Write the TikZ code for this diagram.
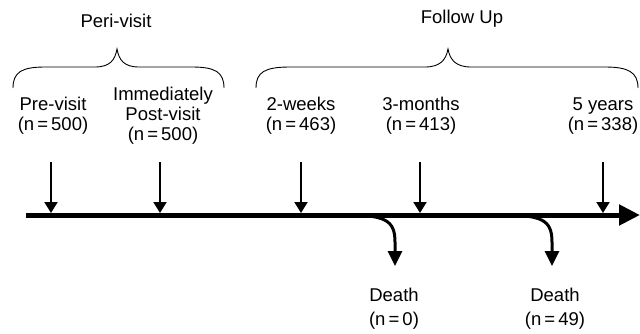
\documentclass[tikz,border=0pt]{standalone}
\usepackage{fontspec}
\setmainfont{Liberation Sans}
\usetikzlibrary{arrows.meta}
\begin{document}
\begin{tikzpicture}[x=1pt,y=-1pt,
  lbl/.style={font=\fontsize{18.5}{20}\selectfont, align=center, inner sep=0pt},
  tick/.style={line width=2pt, -{Triangle[width=13pt,length=11pt]}},
  deatharrow/.style={line width=3pt, -{Triangle[width=14pt,length=15pt]}},
  bracepath/.style={line width=0.9pt}]
\useasboundingbox (0,0) rectangle (640,333);
% labels
\node[lbl] (peri) at (116,21) {Peri-visit};
\node[lbl] (fu) at (462,19) {Follow Up};
\node[lbl] (pre) at (53,116) {Pre-visit\\(n\,=\,500)};
\node[lbl] (post) at (163,116) {Immediately\\Post-visit\\(n\,=\,500)};
\node[lbl] (w2) at (301,116) {2-weeks\\(n\,=\,463)};
\node[lbl] (m3) at (421,116) {3-months\\(n\,=\,413)};
\node[lbl] (y5) at (603,116) {5 years\\(n\,=\,338)};
\node[lbl] (d1) at (394,309) {Death\\[4pt](n\,=\,0)};
\node[lbl] (d2) at (555,309) {Death\\[4pt](n\,=\,49)};
% timeline
\coordinate (tlstart) at (26,215);
\coordinate (tlend) at (640,215);
\draw[line width=5pt, -{Triangle[width=20pt,length=21pt]}] (tlstart) -- (tlend);
% ticks
\foreach \n/\x in {pre/51, post/160, w2/301, m3/420, y5/603}{
  \coordinate (\n top) at (\x,162);
  \coordinate (\n bot) at (\x,213);
  \draw[tick] (\n top) -- (\n bot);
}
% death branches
\coordinate (b1) at (345,215);
\coordinate (e1) at (395,266);
\draw[deatharrow] (b1) .. controls (385,215) and (395,220) .. (395,242) -- (e1);
\coordinate (b2) at (502,215);
\coordinate (e2) at (552,266);
\draw[deatharrow] (b2) .. controls (542,215) and (552,220) .. (552,242) -- (e2);
% braces
\coordinate (lb1) at (13,88);
\coordinate (lb2) at (224,88);
\draw[bracepath] (lb1) .. controls (13,72) and (22,67) .. (45,67) -- (95,67)
  .. controls (110,67) and (115,60) .. (117,49)
  .. controls (119,60) and (124,67) .. (139,67) -- (192,67)
  .. controls (215,67) and (224,72) .. (lb2);
\coordinate (rb1) at (256,88);
\coordinate (rb2) at (638,88);
\draw[bracepath] (rb1) .. controls (256,72) and (265,67) .. (290,67) -- (425,67)
  .. controls (440,67) and (446,60) .. (448,49)
  .. controls (450,60) and (456,67) .. (471,67) -- (605,67)
  .. controls (628,67) and (638,72) .. (rb2);
\end{tikzpicture}
\end{document}
